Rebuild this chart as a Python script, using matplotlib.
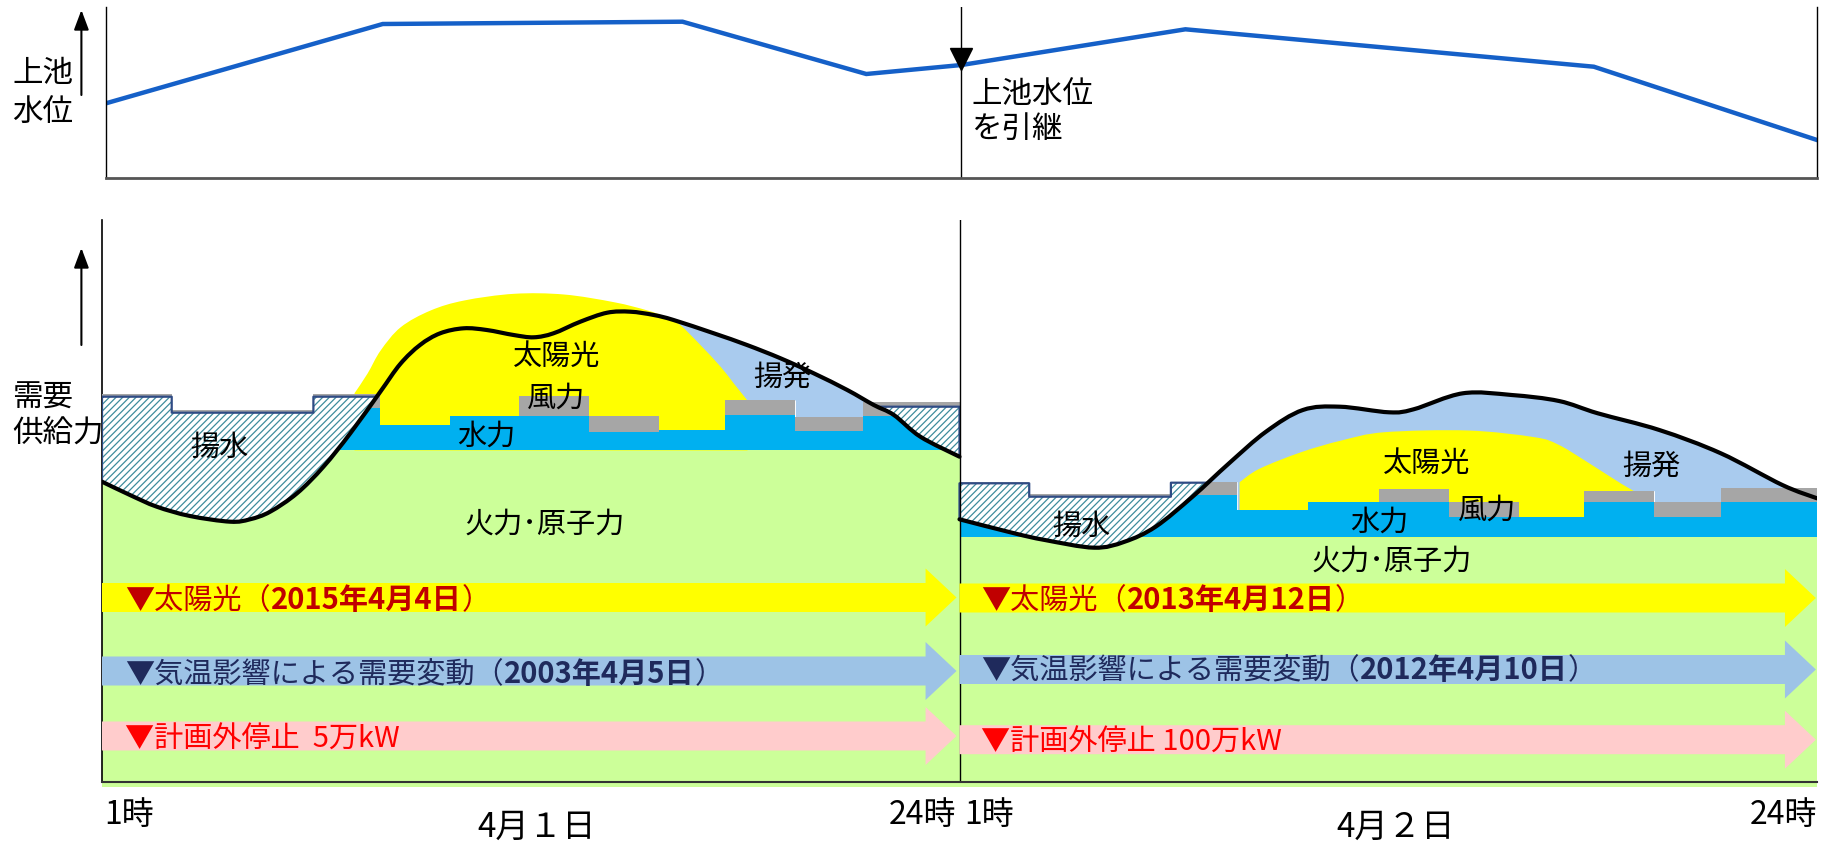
import numpy as np
import matplotlib.pyplot as plt
from matplotlib.patches import FancyArrow
from matplotlib.path import Path

plt.rcParams['font.family'] = ['Noto Sans CJK JP', 'DejaVu Sans']
plt.rcParams['hatch.linewidth'] = 0.9

# x = hours after 1時 on 4/1 (4/2 continues from 23), y = arbitrary units

# upper pond water level (top panel)
pond_x = [0, 7.44, 15.5, 20.44, 23, 29.02, 40.0, 46]
pond_y = [7.47, 15.4, 15.63, 10.4, 11.3, 14.87, 11.13, 3.8]

# ---- day 1 (4/1) ----
dem1_x = [0, 0.75, 1.47, 2.36, 3.44, 3.97, 4.51, 5.23, 5.94, 6.66, 7.46, 8.0, 8.53,
          9.07, 9.7, 10.32, 11.04, 11.58, 12.11, 12.83, 13.55, 14.17, 14.8, 15.33,
          16.41, 17.3, 18.2, 19.09, 19.99, 20.7, 21.24, 21.95, 23]
dem1_y = [30.03, 28.7, 27.53, 26.6, 26.03, 26.27, 27.03, 28.87, 31.53, 34.87, 39.0, 41.8,
          43.7, 44.87, 45.37, 45.2, 44.7, 44.47, 44.87, 46.03, 46.93, 47.03, 46.7, 46.2,
          44.87, 43.7, 42.37, 40.87, 39.2, 37.7, 36.7, 34.53, 32.53]
solar1_x = [6.76, 7.11, 7.46, 8.0, 8.8, 9.7, 11.04, 12.38, 13.72, 14.62, 15.16, 15.51,
            16.05, 16.59, 16.94, 17.3]
solar1_y = [38.93, 40.9, 43.2, 45.53, 47.2, 48.2, 48.87, 48.8, 48.03, 47.2, 46.47, 45.7,
            43.7, 41.53, 39.87, 38.2]
edges1 = [0, 1.87, 5.67, 7.45, 9.34, 11.19, 13.07, 14.95, 16.72, 18.6, 20.4, 23]
thermal1 = 33.2
hydro1 = [37.2, 36.6, 37.4, 35.7, 36.6, 36.6, 35.03, 35.2, 36.7, 35.13, 36.6]
wind1 = [38.85, 37.25, 38.8, 35.7, 36.6, 38.6, 36.6, 35.2, 38.2, 36.53, 38.03]
pump1 = [38.53, 36.93, 38.53, 0, 0, 0, 0, 0, 0, 0, 37.53]

# ---- day 2 (4/2) ----
dem2_x = [23, 24.47, 25.29, 26.61, 27.43, 28.26, 29.25, 30.23, 31.22, 32.21, 33.2, 34.52,
          35.18, 36.5, 37.81, 39.08, 40.12, 41.77, 43.42, 45.07, 46]
dem2_y = [26.27, 24.87, 24.2, 23.43, 24.03, 25.53, 28.53, 31.87, 35.03, 37.2, 37.53, 36.97,
          37.27, 38.87, 38.7, 38.1, 36.87, 35.2, 32.87, 29.7, 28.37]
solar2_x = [30.5, 31.03, 32.15, 33.23, 34.39, 36.63, 38.41, 39.04, 39.76, 40.74, 41.2]
solar2_y = [30.03, 31.37, 33.03, 34.2, 35.03, 35.2, 34.53, 33.8, 32.2, 29.87, 28.9]
edges2 = [23, 24.87, 28.67, 30.45, 32.34, 34.24, 36.12, 38.0, 39.76, 41.64, 43.42, 46]
thermal2 = 24.53
hydro2 = [28.7, 27.7, 28.7, 27.2, 28.03, 28.03, 26.53, 26.53, 28.03, 26.53, 28.03]
wind2 = [30.03, 28.8, 30.03, 27.2, 28.03, 29.3, 28.03, 26.53, 29.13, 28.03, 29.43]
pump2 = [29.87, 28.53, 29.93, 0, 0, 0, 0, 0, 0, 0, 0]

# labels inside the chart
labels = ['太陽光', '風力', '水力', '揚水', '揚発', '火力･原子力',
          '太陽光', '揚発', '水力', '風力', '揚水', '火力･原子力']
label_x = [12.2, 12.18, 10.32, 3.14, 18.26, 11.88, 35.53, 41.57, 34.27, 37.16, 26.27, 34.59]
label_y = [42.5, 38.3, 34.5, 33.4, 40.45, 25.7, 31.8, 31.55, 25.9, 27.15, 25.53, 22.03]

# arrows with the reference days
arrow_start = [0, 23]
arrow_end = [22.92, 45.97]
arrow_y = [[18.45, 11.1, 4.6], [18.4, 11.25, 4.23]]
arrow_colors = ['#FFFF00', '#9DC3E6', '#FFCCCC']
text_x = [0.62, 23.58]
text_y = [[17.3, 9.9, 3.4], [17.3, 10.3, 3.1]]
text_colors = ['#C00000', '#1F2A5C', '#FF0000']
row_texts = [
    [[('▼太陽光（', 'normal'), ('2015年4月4日', 'bold'), ('）', 'normal')],
     [('▼気温影響による需要変動（', 'normal'), ('2003年4月5日', 'bold'), ('）', 'normal')],
     [('▼計画外停止  5万kW', 'normal')]],
    [[('▼太陽光（', 'normal'), ('2013年4月12日', 'bold'), ('）', 'normal')],
     [('▼気温影響による需要変動（', 'normal'), ('2012年4月10日', 'bold'), ('）', 'normal')],
     [('▼計画外停止 100万kW', 'normal')]],
]

GREEN = '#CCFF99'
LBLUE = '#A9CBEE'
YELLOW = '#FFFF00'
HYDRO = '#00B0F0'
WIND = '#A6A6A6'
HATCH = '#3E8C9C'
HATCH_EDGE = '#2F4B84'

W, H = 1823, 842
fig = plt.figure(figsize=(W / 100, H / 100), dpi=100)
ax_top = fig.add_axes([106 / W, 1 - 178 / H, (1817 - 106) / W, (178 - 7) / H])
ax_bot = fig.add_axes([102 / W, 1 - 782 / H, (1817 - 102) / W, (782 - 220) / H])
ax_bot.set_xlim(0, 46)
ax_bot.set_ylim(0, 56.2)


def step_at(x, edges, vals):
    i = np.clip(np.searchsorted(edges, x, side='right') - 1, 0, len(vals) - 1)
    return np.asarray(vals, dtype=float)[i]


def smooth(ax, xs, ys):
    # catmull-rom through the points as a bezier path, flattened by matplotlib
    p = np.column_stack([xs, ys]).astype(float)
    verts, codes = [p[0]], [Path.MOVETO]
    for i in range(len(p) - 1):
        p0 = p[i - 1] if i > 0 else p[i]
        p3 = p[i + 2] if i + 2 < len(p) else p[i + 1]
        verts += [p[i] + (p[i + 1] - p0) / 6, p[i + 1] - (p3 - p[i]) / 6, p[i + 1]]
        codes += [Path.CURVE4] * 3
    path = ax.transData.transform_path(Path(verts, codes))
    pts = np.vstack(path.to_polygons(closed_only=False))
    pts = ax.transData.inverted().transform(pts)
    x = np.maximum.accumulate(pts[:, 0])
    return x, pts[:, 1]


def draw_day(ax, dem_x, dem_y, edges, thermal, hydro, wind, pump, sol_x, sol_y):
    x0, x1 = edges[0], edges[-1]
    ax.fill_between([x0, x1], -0.5, thermal, color=GREEN, lw=0, zorder=1, clip_on=False)

    cx, cy = smooth(ax, dem_x, dem_y)
    e = np.asarray(edges, dtype=float)
    grid = np.union1d(cx, np.concatenate([e - 1e-4, e + 1e-4]))
    grid = grid[(grid >= x0) & (grid <= x1)]
    d = np.interp(grid, cx, cy)
    top = step_at(grid, edges, wind)
    pu = step_at(grid, edges, pump)

    # 揚発 : demand above the stack
    ax.fill_between(grid, top, d, where=d > top, interpolate=True, color=LBLUE, lw=0, zorder=2)
    # 太陽光
    sx, sy = smooth(ax, sol_x, sol_y)
    ax.fill_between(sx, thermal, sy, color=YELLOW, lw=0, zorder=3)
    # 水力, 風力
    h = list(hydro) + [hydro[-1]]
    w = list(wind) + [wind[-1]]
    ax.fill_between(edges, thermal, h, step='post', color=HYDRO, lw=0, zorder=4)
    ax.fill_between(edges, h, w, step='post', color=WIND, lw=0, zorder=4)
    # 揚水 (hatched)
    ax.fill_between(grid, d, pu, where=d < pu, interpolate=True, facecolor='white',
                    edgecolor=HATCH, hatch='/////', lw=0, zorder=5)
    ax.fill_between(grid, d, pu, where=d < pu, interpolate=True, facecolor='none',
                    edgecolor=HATCH_EDGE, lw=1.6, zorder=6)
    # demand
    ax.plot(cx, cy, color='black', lw=3, zorder=7,
            solid_joinstyle='round', solid_capstyle='round')


draw_day(ax_bot, dem1_x, dem1_y, edges1, thermal1, hydro1, wind1, pump1, solar1_x, solar1_y)
draw_day(ax_bot, dem2_x, dem2_y, edges2, thermal2, hydro2, wind2, pump2, solar2_x, solar2_y)

for s, x, y in zip(labels, label_x, label_y):
    ax_bot.text(x, y, s, fontsize=21, ha='center', va='center', zorder=9)

# arrows and their texts
for d in range(2):
    for r in range(3):
        ax_bot.add_patch(FancyArrow(arrow_start[d], arrow_y[d][r],
                                    arrow_end[d] - arrow_start[d], 0,
                                    width=2.9, head_width=5.8, head_length=0.83,
                                    length_includes_head=True, color=arrow_colors[r],
                                    lw=0, zorder=8))
        prev = None
        for s, wt in row_texts[d][r]:
            if prev is None:
                prev = ax_bot.text(text_x[d], text_y[d][r], s, fontsize=21, fontweight=wt,
                                   color=text_colors[r], ha='left', va='baseline', zorder=9)
            else:
                prev = ax_bot.annotate(s, xy=(1, text_y[d][r]), xycoords=(prev, 'data'),
                                       fontsize=21, fontweight=wt, color=text_colors[r],
                                       ha='left', va='baseline', zorder=9)

ax_bot.axvline(23, color='black', lw=1, zorder=7.5)
ax_bot.set_xticks([])
ax_bot.set_yticks([])
for side in ['top', 'right']:
    ax_bot.spines[side].set_visible(False)
ax_bot.spines['left'].set_color('black')
ax_bot.spines['left'].set_linewidth(1.2)
ax_bot.spines['bottom'].set_color('#333333')
ax_bot.spines['bottom'].set_linewidth(1.5)
ax_bot.spines['bottom'].set_zorder(8.5)

# time labels
ax_bot.text(0.05, -3.3, '1時', fontsize=23, ha='left', va='center', clip_on=False)
ax_bot.text(22.9, -3.3, '24時', fontsize=23, ha='right', va='center', clip_on=False)
ax_bot.text(23.13, -3.3, '1時', fontsize=23, ha='left', va='center', clip_on=False)
ax_bot.text(46, -3.3, '24時', fontsize=23, ha='right', va='center', clip_on=False)
ax_bot.text(11.67, -4.5, '4月１日', fontsize=24, ha='center', va='center', clip_on=False)
ax_bot.text(34.7, -4.5, '4月２日', fontsize=24, ha='center', va='center', clip_on=False)

# ---- top panel: upper pond level ----
ax_top.plot(pond_x, pond_y, color='#1560C8', lw=3.2, solid_joinstyle='miter')
ax_top.axvline(23, color='black', lw=1)
ax_top.plot([23], [11.9], marker='v', ms=16, color='black', clip_on=False, zorder=5)
ax_top.text(23.27, 6.6, '上池水位\nを引継', fontsize=22, ha='left', va='center', linespacing=1.2)
ax_top.set_xlim(0, 46)
ax_top.set_ylim(0, 17.1)
ax_top.set_xticks([])
ax_top.set_yticks([])
ax_top.spines['top'].set_visible(False)
ax_top.spines['left'].set_linewidth(1)
ax_top.spines['right'].set_linewidth(1)
ax_top.spines['bottom'].set_color('#555555')
ax_top.spines['bottom'].set_linewidth(2)

# axis captions with upward arrows
fig.text(12 / W, 1 - 93 / H, '上池\n水位', fontsize=22, ha='left', va='center', linespacing=1.3)
fig.text(12 / W, 1 - 416 / H, '需要\n供給力', fontsize=22, ha='left', va='center', linespacing=1.15)
for y0, y1 in [(95, 10), (345, 248)]:
    ax_top.annotate('', xy=(81.4 / W, 1 - y1 / H), xytext=(81.4 / W, 1 - y0 / H),
                    xycoords='figure fraction', textcoords='figure fraction',
                    arrowprops=dict(arrowstyle='-|>,head_length=0.8,head_width=0.3',
                                    color='black', lw=1.5, mutation_scale=15,
                                    shrinkA=0, shrinkB=0),
                    annotation_clip=False)

fig.savefig('out.png', dpi=100)
